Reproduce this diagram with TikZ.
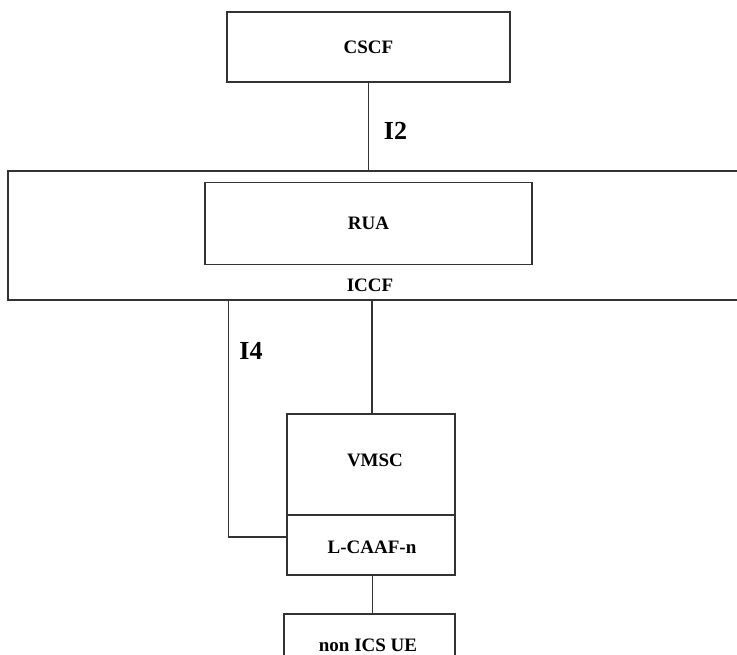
\documentclass[tikz,border=0pt]{standalone}
\usepackage{fontspec}
\setmainfont{Liberation Serif}
\begin{document}
\begin{tikzpicture}[x=1pt,y=-1pt,
  line/.style={draw=black!80, line width=1.1pt},
  box/.style={line, rectangle, inner sep=0pt, anchor=center, font=\fontsize{19}{21}\selectfont\bfseries},
  lbl/.style={inner sep=0pt, font=\fontsize{19}{21}\selectfont\bfseries},
  iflbl/.style={inner sep=0pt, font=\fontsize{26}{28}\selectfont\bfseries}]
\useasboundingbox (0,0) rectangle (737,655);
\clip (0,0) rectangle (737,655);
% boxes
\node[box, minimum width=283pt, minimum height=70pt] (cscf) at (368.5,47) {CSCF};
\node[box, minimum width=740pt, minimum height=129pt] (iccf) at (378,235.5) {};
\node[box, minimum width=327pt, minimum height=82pt] (rua) at (368.5,223.5) {RUA};
\node[lbl] (iccflbl) at (370,285) {ICCF};
\node[box, minimum width=168pt, minimum height=101pt] (vmsc) at (371,464.5) {};
\node[lbl] (vmsclbl) at (375,460) {VMSC};
\node[box, minimum width=168pt, minimum height=60pt] (lcaaf) at (371,545) {};
\node[lbl] (lcaaflbl) at (372,547.5) {L-CAAF-n};
\node[box, minimum width=171pt, minimum height=76pt] (ue) at (369.5,652) {};
\node[lbl] (uelbl) at (368,645.5) {non ICS UE};
% connectors
\draw[line] (cscf.south) -- (cscf.south |- iccf.north);
\node[iflbl] (i2) at (395.5,130.5) {I2};
\coordinate (vtop) at (372,300);
\draw[line] (vtop |- iccf.south) -- (vtop |- vmsc.north);
\coordinate (i4c) at (228.5,537);
\draw[line] (i4c |- iccf.south) -- (i4c) -- (i4c -| lcaaf.west);
\node[iflbl] (i4) at (251,350.5) {I4};
\coordinate (ulc) at (372.5,600);
\draw[line] (ulc |- lcaaf.south) -- (ulc |- ue.north);
\end{tikzpicture}
\end{document}
